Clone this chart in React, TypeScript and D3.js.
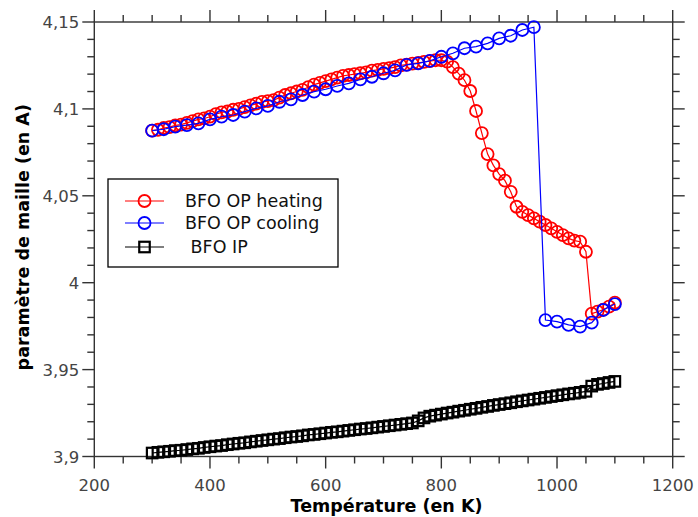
import React from "react";
import * as d3 from "d3";

// Heating (OP) — temperature (K) and lattice parameter (A)
const heatingT = [300,310,320,330,340,350,360,370,380,390,400,410,420,430,440,450,460,470,480,490,500,510,520,530,540,550,560,570,580,590,600,610,620,630,640,650,660,670,680,690,700,710,720,730,740,750,760,770,780,790,800,810,820,830,840,850,860,870,880,890,900,910,920,930,940,950,960,970,980,990,1000,1010,1020,1030,1040,1050,1060,1070,1080,1090,1100];
const heatingA = [4.0875,4.088,4.089,4.0895,4.0905,4.091,4.092,4.093,4.094,4.0945,4.0955,4.097,4.098,4.0985,4.0995,4.1,4.101,4.102,4.103,4.104,4.1045,4.105,4.1065,4.108,4.109,4.11,4.111,4.1125,4.114,4.115,4.116,4.117,4.118,4.119,4.1195,4.12,4.1205,4.121,4.122,4.1225,4.123,4.1235,4.124,4.125,4.1255,4.126,4.1265,4.127,4.1275,4.128,4.128,4.1272,4.124,4.1203,4.1165,4.1103,4.0988,4.0861,4.074,4.0675,4.0625,4.0587,4.0523,4.0437,4.0408,4.0389,4.037,4.0351,4.0332,4.0313,4.0293,4.0274,4.0255,4.0242,4.0236,4.0178,3.9822,3.9833,3.9845,3.9862,3.9885];

// Cooling (OP)
const coolingT = [300,320,340,360,380,400,420,440,460,480,500,520,540,560,580,600,620,640,660,680,700,720,740,760,780,800,820,840,860,880,900,920,940,960,980,1000,1020,1040,1060,1080,1100];
const coolingA = [4.0875,4.0883,4.0898,4.0907,4.0917,4.094,4.0955,4.0965,4.0984,4.1003,4.1017,4.1041,4.1055,4.108,4.1099,4.1113,4.1132,4.1147,4.117,4.1185,4.1205,4.1222,4.1253,4.1262,4.1276,4.13,4.132,4.1349,4.1358,4.1377,4.1406,4.1421,4.1454,4.147,3.9785,3.9776,3.9757,3.9747,3.977,3.9843,3.9877];

// In-plane (IP)
const ipT = heatingT;
const ipA = [3.902,3.9024,3.9027,3.903,3.9034,3.9036,3.904,3.9044,3.9047,3.9052,3.9056,3.906,3.9063,3.9068,3.9072,3.9076,3.9079,3.9084,3.9088,3.9092,3.9096,3.91,3.9103,3.9108,3.9112,3.9115,3.9119,3.9124,3.9127,3.9131,3.9135,3.9139,3.9142,3.9146,3.915,3.9154,3.9158,3.9161,3.9165,3.9169,3.9173,3.9177,3.9181,3.9185,3.9189,3.9193,3.9205,3.9222,3.9232,3.9238,3.9244,3.925,3.9255,3.9261,3.9266,3.9272,3.9277,3.9283,3.9288,3.9294,3.9299,3.9304,3.9309,3.9315,3.932,3.9325,3.933,3.9335,3.934,3.9345,3.935,3.9355,3.936,3.9364,3.9369,3.9375,3.9405,3.9415,3.942,3.9426,3.9432];

const xTicks = [200,400,600,800,1000,1200];
const yTicks = [3.9,3.95,4,4.05,4.1,4.15];
const yTickLabels = ["3,9","3,95","4","4,05","4,1","4,15"];
const legendLabels = ["BFO OP heating","BFO OP cooling"," BFO IP"];

const W = 698, H = 517;
const L = 94.3, R = 672.7, T = 22, B = 456.5;

export default function App() {
  const x = d3.scaleLinear().domain([200, 1200]).range([L, R]);
  const y = d3.scaleLinear().domain([3.9, 4.15]).range([B, T]);
  const line = d3.line<[number, number]>().x(d => x(d[0])).y(d => y(d[1]));
  const heat: [number, number][] = heatingT.map((t, i) => [t, heatingA[i]]);
  const cool: [number, number][] = coolingT.map((t, i) => [t, coolingA[i]]);
  const ip: [number, number][] = ipT.map((t, i) => [t, ipA[i]]);
  const xMinor = d3.range(200, 1201, 50);
  const yMinor = d3.range(0, 26).map(i => 3.9 + i * 0.01);
  const axisColor = "#333";
  const font = "DejaVu Sans, sans-serif";
  const r = 6;
  const sq = 10.5;

  return (
    <svg width={W} height={H} style={{ position: "absolute", left: 0, top: 0 }} fontFamily={font}>
      <rect width={W} height={H} fill="white" />
      {/* frame */}
      <rect x={L} y={T} width={R - L} height={B - T} fill="none" stroke={axisColor} strokeWidth={1.4} />
      {xMinor.map(v => {
        const major = v % 200 === 0;
        const len = major ? 12 : 7;
        return (
          <g key={"xt" + v} stroke={axisColor} strokeWidth={1.4}>
            <line x1={x(v)} x2={x(v)} y1={B} y2={B + len} />
            <line x1={x(v)} x2={x(v)} y1={T} y2={T - len} />
          </g>
        );
      })}
      {yMinor.map((v, i) => {
        const major = i % 5 === 0;
        const len = major ? 12 : 7;
        return (
          <g key={"yt" + i} stroke={axisColor} strokeWidth={1.4}>
            <line x1={L} x2={L - len} y1={y(v)} y2={y(v)} />
            <line x1={R} x2={R + len} y1={y(v)} y2={y(v)} />
          </g>
        );
      })}
      {xTicks.map(v => (
        <text key={"xl" + v} x={x(v)} y={B + 34} textAnchor="middle" fontSize={16.5} fill="#444">{v}</text>
      ))}
      {yTicks.map((v, i) => (
        <text key={"yl" + v} x={L - 15} y={y(v) + 6} textAnchor="end" fontSize={16.5} fill="#444">{yTickLabels[i]}</text>
      ))}
      <text x={(L + R) / 2 + 3} y={512} textAnchor="middle" fontSize={17.5} fontWeight="bold">Température (en K)</text>
      <text transform={`translate(29,${(T + B) / 2 - 2}) rotate(-90)`} textAnchor="middle" fontSize={17.5} fontWeight="bold">paramètre de maille (en A)</text>

      {/* heating */}
      <path d={line(heat) || ""} fill="none" stroke="red" strokeWidth={1.2} />
      {heat.map((d, i) => (
        <circle key={"h" + i} cx={x(d[0])} cy={y(d[1])} r={r} fill="none" stroke="red" strokeWidth={1.8} />
      ))}
      {/* cooling */}
      <path d={line(cool) || ""} fill="none" stroke="blue" strokeWidth={1.2} />
      {cool.map((d, i) => (
        <circle key={"c" + i} cx={x(d[0])} cy={y(d[1])} r={r} fill="none" stroke="blue" strokeWidth={1.8} />
      ))}
      {/* IP */}
      <path d={line(ip) || ""} fill="none" stroke="black" strokeWidth={1.2} />
      {ip.map((d, i) => (
        <rect key={"p" + i} x={x(d[0]) - sq / 2} y={y(d[1]) - sq / 2} width={sq} height={sq} fill="none" stroke="black" strokeWidth={2.2} />
      ))}

      {/* legend */}
      <rect x={108} y={179} width={230} height={88} fill="white" stroke="black" strokeWidth={1.3} />
      {legendLabels.map((lab, i) => {
        const ly = [201, 223, 247][i];
        const col = ["red", "blue", "black"][i];
        return (
          <g key={"lg" + i}>
            <line x1={125} x2={164} y1={ly} y2={ly} stroke={col} strokeWidth={1.2} />
            {i < 2 ? (
              <circle cx={144.5} cy={ly} r={r} fill="none" stroke={col} strokeWidth={1.8} />
            ) : (
              <rect x={144.5 - sq / 2} y={ly - sq / 2} width={sq} height={sq} fill="none" stroke={col} strokeWidth={2.2} />
            )}
            <text x={185} y={ly + 6} fontSize={17.5} fill="#111" style={{ whiteSpace: "pre" }}>{lab}</text>
          </g>
        );
      })}
    </svg>
  );
}
